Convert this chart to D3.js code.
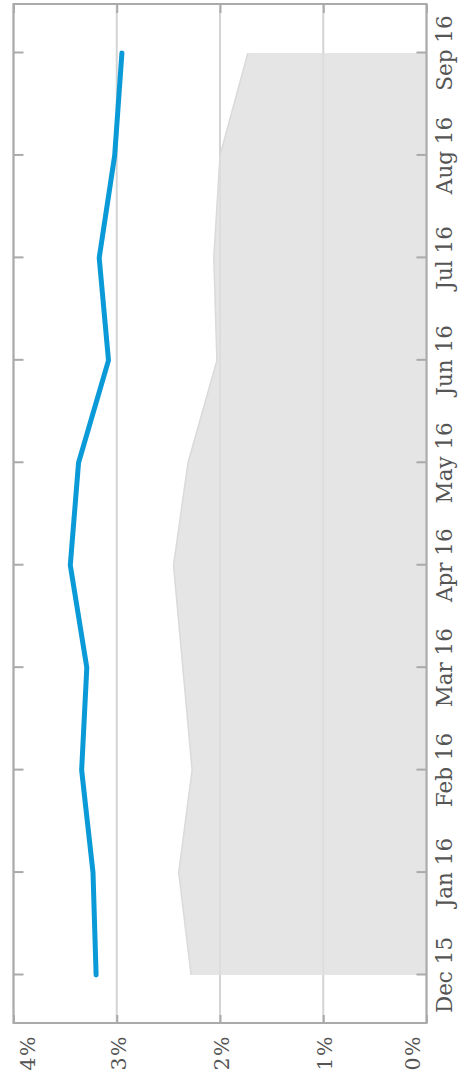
<!DOCTYPE html>
<html>
<head>
<meta charset="utf-8">
<script src="https://cdn.jsdelivr.net/npm/d3@7"></script>
<style>
  html, body { margin: 0; padding: 0; background: #fff; }
  svg { display: block; }
  text { font-family: "DejaVu Serif", serif; fill: #555; }
</style>
</head>
<body>
<svg id="chart" width="459" height="1073"></svg>
<script>
// Monthly series
const months = ["Dec 15", "Jan 16", "Feb 16", "Mar 16", "Apr 16", "May 16", "Jun 16", "Jul 16", "Aug 16", "Sep 16"];
const lineValues = [3.20, 3.23, 3.34, 3.29, 3.45, 3.37, 3.08, 3.17, 3.02, 2.95];
const areaValues = [2.28, 2.40, 2.27, 2.36, 2.45, 2.31, 2.03, 2.06, 2.00, 1.73];
const yTicks = [0, 1, 2, 3, 4];

// The chart is laid out landscape and turned a quarter turn counter-clockwise
const W = 1073, H = 459;
const frame = { left: 50, right: 1069, top: 13.5, bottom: 426.5 };

const svg = d3.select("#chart");
const g = svg.append("g").attr("transform", `translate(0,${W}) rotate(-90)`);

const x = d3.scalePoint().domain(months).range([98, 1020]);
const y = d3.scaleLinear().domain([0, 4]).range([frame.bottom, frame.top]);

// Horizontal gridlines
g.append("g").selectAll("line").data(yTicks).join("line")
  .attr("x1", frame.left).attr("x2", frame.right)
  .attr("y1", d => y(d)).attr("y2", d => y(d))
  .attr("stroke", "#d4d4d4").attr("stroke-width", 2);

// Shaded area
const area = d3.area()
  .x((d, i) => x(months[i]))
  .y0(y(0))
  .y1(d => y(d));
g.append("path").datum(areaValues)
  .attr("d", area)
  .attr("fill", "#dedede").attr("fill-opacity", 0.8);
g.append("path").datum(areaValues)
  .attr("d", d3.line().x((d, i) => x(months[i])).y(d => y(d)))
  .attr("fill", "none").attr("stroke", "#dadada").attr("stroke-width", 1.5);

// Main line
g.append("path").datum(lineValues)
  .attr("d", d3.line().x((d, i) => x(months[i])).y(d => y(d)))
  .attr("fill", "none").attr("stroke", "#0a9ad7")
  .attr("stroke-width", 5).attr("stroke-linecap", "round").attr("stroke-linejoin", "round");

// Frame with inward ticks on all sides
function styleAxis(sel) {
  sel.select(".domain").remove();
  sel.selectAll(".tick line").attr("stroke", "#aaa").attr("stroke-width", 2);
  sel.selectAll(".tick text").remove();
}
g.append("g").attr("transform", `translate(0,${frame.bottom})`)
  .call(d3.axisBottom(x).tickSize(-10)).call(styleAxis);
g.append("g").attr("transform", `translate(0,${frame.top})`)
  .call(d3.axisTop(x).tickSize(-10)).call(styleAxis);
g.append("g").attr("transform", `translate(${frame.left},0)`)
  .call(d3.axisLeft(y).tickValues(yTicks).tickSize(-8)).call(styleAxis);
g.append("g").attr("transform", `translate(${frame.right},0)`)
  .call(d3.axisRight(y).tickValues(yTicks).tickSize(-9)).call(styleAxis);

g.append("rect")
  .attr("x", frame.left).attr("y", frame.top)
  .attr("width", frame.right - frame.left).attr("height", frame.bottom - frame.top)
  .attr("fill", "none").attr("stroke", "#aaa").attr("stroke-width", 2);

// Month labels
g.append("g").selectAll("text").data(months).join("text")
  .attr("x", d => x(d)).attr("y", 452)
  .attr("text-anchor", "middle")
  .attr("font-size", 21.5)
  .text(d => d);

// Percent labels, kept inside the frame's extent at the ends
g.append("g").selectAll("text").data(yTicks).join("text")
  .attr("x", 38)
  .attr("y", d => Math.max(frame.top + 14, Math.min(frame.bottom - 14, y(d) + 2)))
  .attr("dy", "0.35em")
  .attr("text-anchor", "end")
  .attr("font-size", 20.5)
  .attr("letter-spacing", 1.5)
  .text(d => d + "%");
</script>
</body>
</html>
